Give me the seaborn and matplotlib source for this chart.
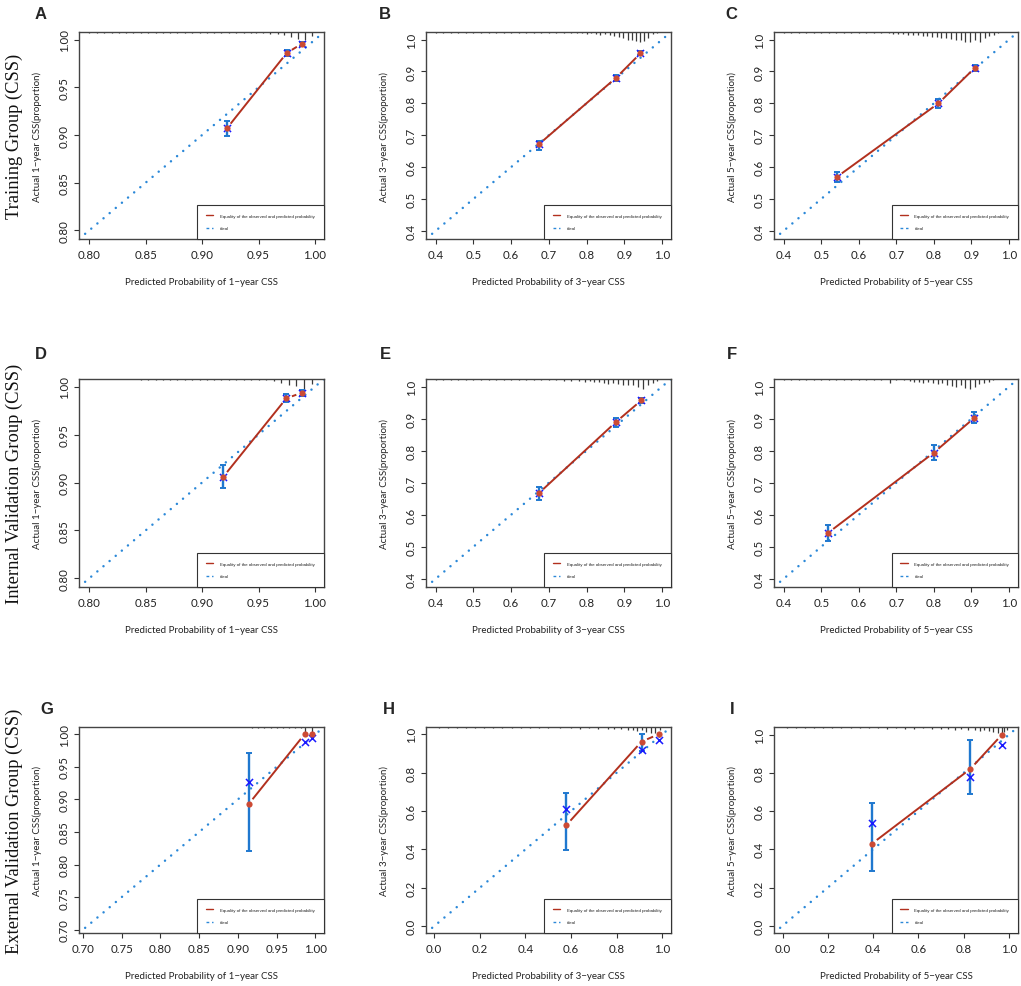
import numpy as np
import matplotlib
matplotlib.use('Agg')
import matplotlib.pyplot as plt
import seaborn as sns
from matplotlib.lines import Line2D

# calibration points: predicted, observed (KM), bias-corrected, CI
pred_A = [0.922, 0.975, 0.9885]
obs_A = [0.907, 0.986, 0.9958]
bc_A = [0.907, 0.986, 0.9958]
lo_A = [0.899, 0.983, 0.993]
hi_A = [0.915, 0.989, 0.998]

pred_B = [0.673, 0.878, 0.943]
obs_B = [0.671, 0.880, 0.957]
bc_B = [0.671, 0.880, 0.957]
lo_B = [0.655, 0.871, 0.951]
hi_B = [0.683, 0.889, 0.963]

pred_C = [0.5416, 0.812, 0.910]
obs_C = [0.569, 0.800, 0.9125]
bc_C = [0.569, 0.800, 0.9125]
lo_C = [0.553, 0.785, 0.902]
hi_C = [0.584, 0.8135, 0.921]

pred_D = [0.9188, 0.9746, 0.9885]
obs_D = [0.906, 0.9878, 0.9937]
bc_D = [0.906, 0.9878, 0.9937]
lo_D = [0.894, 0.9837, 0.9906]
hi_D = [0.918, 0.992, 0.9965]

pred_E = [0.673, 0.878, 0.945]
obs_E = [0.6667, 0.8896, 0.957]
bc_E = [0.6667, 0.8896, 0.957]
lo_E = [0.645, 0.875, 0.949]
hi_E = [0.686, 0.903, 0.966]

pred_F = [0.519, 0.800, 0.908]
obs_F = [0.544, 0.794, 0.903]
bc_F = [0.544, 0.794, 0.903]
lo_F = [0.517, 0.772, 0.8875]
hi_F = [0.569, 0.817, 0.921]

pred_G = [0.914, 0.986, 0.996]
obs_G = [0.893, 1.0, 1.0]
bc_G = [0.9264, 0.9875, 0.9948]
lo_G = [0.8206, np.nan, np.nan]
hi_G = [0.971, np.nan, np.nan]

pred_H = [0.580, 0.909, 0.984]
obs_H = [0.527, 0.962, 1.0]
bc_H = [0.610, 0.920, 0.972]
lo_H = [0.398, 0.913, np.nan]
hi_H = [0.692, 1.0, np.nan]

pred_I = [0.395, 0.830, 0.969]
obs_I = [0.4296, 0.821, 1.0]
bc_I = [0.537, 0.779, 0.946]
lo_I = [0.285, 0.690, np.nan]
hi_I = [0.643, 0.970, np.nan]

# risk distribution ticks along the top (position, relative length)
rug_x_A = [0.800, 0.807, 0.813, 0.820, 0.826, 0.833, 0.839, 0.846, 0.852, 0.859, 0.865, 0.872,
           0.878, 0.885, 0.891, 0.898, 0.904, 0.911, 0.917, 0.924, 0.930, 0.937, 0.943,
           0.948, 0.954, 0.960, 0.967, 0.973, 0.979, 0.985, 0.991, 0.997]
rug_h_A = [1] * 23 + [1, 1.5, 2, 2, 3, 5, 7, 8, 4]

rug_x_B = [0.40, 0.42, 0.44, 0.46, 0.48, 0.50, 0.52, 0.54, 0.56, 0.58, 0.60, 0.62, 0.64, 0.66,
           0.68, 0.70, 0.72, 0.74, 0.76, 0.7735, 0.787, 0.800, 0.812, 0.824, 0.835, 0.849, 0.862,
           0.873, 0.886, 0.897, 0.909, 0.920, 0.931, 0.942, 0.952, 0.964, 0.975, 0.986]
rug_h_B = [1] * 19 + [1, 1, 2, 1.5, 2, 3, 2, 3, 4, 5, 6, 8, 8, 9, 10, 9, 6, 2, 1]

rug_x_C = [0.40, 0.42, 0.44, 0.46, 0.48, 0.50, 0.52, 0.54, 0.56, 0.58, 0.60, 0.62, 0.64, 0.66,
           0.68, 0.692, 0.705, 0.718, 0.731, 0.745, 0.757, 0.770, 0.782, 0.795, 0.808, 0.820,
           0.833, 0.845, 0.858, 0.871, 0.884, 0.896, 0.909, 0.922, 0.935, 0.947, 0.960, 0.972]
rug_h_C = [1] * 15 + [2, 2, 2, 3, 3, 3, 4, 4, 5, 5, 6, 6, 7, 8, 8, 10, 10, 8, 10, 6, 4, 3, 1]

rug_x_D = [0.846, 0.852, 0.859, 0.865, 0.872, 0.878, 0.885, 0.891, 0.898, 0.904, 0.911, 0.917,
           0.924, 0.930, 0.937, 0.943, 0.950, 0.957, 0.964, 0.970, 0.977, 0.983, 0.990, 0.997]
rug_h_D = [1] * 17 + [1, 2, 4, 6, 7, 10, 5]

rug_x_E = [0.40, 0.42, 0.44, 0.46, 0.48, 0.50, 0.52, 0.54, 0.56, 0.58, 0.60, 0.62, 0.64, 0.66,
           0.68, 0.70, 0.72, 0.74, 0.76, 0.78, 0.796, 0.809, 0.820, 0.833, 0.845, 0.858, 0.871,
           0.884, 0.897, 0.910, 0.924, 0.937, 0.950, 0.964, 0.977, 0.988]
rug_h_E = [1] * 14 + [1.5, 1.5, 1.5, 2, 2, 2] + [3, 2, 3, 3, 4, 5, 4, 5, 6, 6, 6, 8, 10, 6, 4, 2]

rug_x_F = [0.40, 0.42, 0.44, 0.46, 0.48, 0.50, 0.52, 0.54, 0.56, 0.58, 0.60, 0.62, 0.64, 0.66,
           0.683, 0.700, 0.720, 0.735, 0.748, 0.760, 0.772, 0.784, 0.797, 0.810, 0.822, 0.835,
           0.847, 0.860, 0.872, 0.884, 0.897, 0.909, 0.921, 0.934, 0.946, 0.958]
rug_h_F = [1] * 14 + [4, 1.5, 1.5, 2, 3, 3, 4, 3, 4, 5, 4, 6, 7, 8, 6, 9, 10, 8, 5, 4, 3, 1]

rug_x_G = [0.918, 0.926, 0.934, 0.942, 0.950, 0.958, 0.966, 0.974, 0.981, 0.987, 0.995]
rug_h_G = [1, 1, 1, 1, 1, 1, 1, 1, 1.5, 6, 5]

rug_x_H = [0.02, 0.06, 0.10, 0.14, 0.18, 0.22, 0.26, 0.30, 0.34, 0.38, 0.42, 0.46, 0.50,
           0.55, 0.60, 0.64, 0.68, 0.72, 0.76, 0.79, 0.82, 0.85, 0.87, 0.89, 0.91, 0.93, 0.95,
           0.97, 0.99]
rug_h_H = [1] * 13 + [1.5, 1.5, 2, 1.5, 2, 2, 2.5, 2, 3, 3, 4, 3, 5, 6, 6, 3]

rug_x_I = [0.02, 0.06, 0.10, 0.14, 0.18, 0.22, 0.26, 0.30, 0.34, 0.38, 0.42, 0.46, 0.50, 0.54,
           0.58, 0.62, 0.66, 0.70, 0.73, 0.76, 0.79, 0.82, 0.85, 0.87, 0.89, 0.91, 0.93, 0.95,
           0.97, 0.98, 0.99]
rug_h_I = [1] * 8 + [1.5, 1.5, 1.5, 2, 1.5, 2, 2, 1.5, 2, 2, 2.5, 3, 2.5, 3, 3.5, 4, 3, 4, 5,
                     6, 6, 5, 3]

ticks_1yr = [0.80, 0.85, 0.90, 0.95, 1.00]
ticks_3_5yr = [0.4, 0.5, 0.6, 0.7, 0.8, 0.9, 1.0]
ticks_ext_1yr = [0.70, 0.75, 0.80, 0.85, 0.90, 0.95, 1.00]
ticks_ext = [0.0, 0.2, 0.4, 0.6, 0.8, 1.0]

years = ['1', '3', '5']
row_labels = ['Training Group (CSS)', 'Internal Validation Group (CSS)', 'External Validation Group (CSS)']
letters = ['A', 'B', 'C', 'D', 'E', 'F', 'G', 'H', 'I']

panels = [
    (pred_A, obs_A, bc_A, lo_A, hi_A, rug_x_A, rug_h_A, ticks_1yr, '%.2f', (0.791, 1.008)),
    (pred_B, obs_B, bc_B, lo_B, hi_B, rug_x_B, rug_h_B, ticks_3_5yr, '%.1f', (0.374, 1.024)),
    (pred_C, obs_C, bc_C, lo_C, hi_C, rug_x_C, rug_h_C, ticks_3_5yr, '%.1f', (0.374, 1.024)),
    (pred_D, obs_D, bc_D, lo_D, hi_D, rug_x_D, rug_h_D, ticks_1yr, '%.2f', (0.791, 1.008)),
    (pred_E, obs_E, bc_E, lo_E, hi_E, rug_x_E, rug_h_E, ticks_3_5yr, '%.1f', (0.374, 1.024)),
    (pred_F, obs_F, bc_F, lo_F, hi_F, rug_x_F, rug_h_F, ticks_3_5yr, '%.1f', (0.374, 1.024)),
    (pred_G, obs_G, bc_G, lo_G, hi_G, rug_x_G, rug_h_G, ticks_ext_1yr, '%.2f', (0.695, 1.011)),
    (pred_H, obs_H, bc_H, lo_H, hi_H, rug_x_H, rug_h_H, ticks_ext, '%.1f', (-0.035, 1.038)),
    (pred_I, obs_I, bc_I, lo_I, hi_I, rug_x_I, rug_h_I, ticks_ext, '%.1f', (-0.038, 1.040)),
]

RED_LINE = '#b2301e'
RED_PT = '#cc4a34'
BLUE_ERR = '#1f78cf'
BLUE_IDEAL = '#2b88d8'
BLUE_X = '#1a1aff'

sns.set_style('white')
plt.rcParams['font.family'] = ['Lato', 'DejaVu Sans']

W, H = 1021, 987
fig = plt.figure(figsize=(W / 100, H / 100), dpi=100)

col_left = [79, 426, 774]
col_w = [245, 245, 244]
row_top = [33, 380, 728]
row_h = [207, 208, 206]
letter_pos = [(35, 7), (379, 7), (725, 7), (35, 347), (380, 347), (727, 347),
              (40, 702), (383, 702), (730, 702)]


def gapped_line(ax, x, y, gap):
    # R type="b": segments stop short of the points
    tr = ax.transData
    pts = tr.transform(np.column_stack([x, y]))
    for p0, p1 in zip(pts[:-1], pts[1:]):
        d = p1 - p0
        L = np.hypot(d[0], d[1])
        if L <= 2 * gap + 1:
            continue
        u = d / L
        seg = tr.inverted().transform(np.array([p0 + u * gap, p1 - u * gap]))
        ax.plot(seg[:, 0], seg[:, 1], color=RED_LINE, lw=1.4, solid_capstyle='butt')


for k, (pred, obs, bc, lo, hi, rx, rh, ticks, fmt, lim) in enumerate(panels):
    r, c = divmod(k, 3)
    ax = fig.add_axes([col_left[c] / W, 1 - (row_top[r] + row_h[r]) / H, col_w[c] / W, row_h[r] / H])
    ax.set_xlim(lim)
    ax.set_ylim(lim)

    # ideal diagonal, dotted
    ax.axline((0, 0), (1, 1), color=BLUE_IDEAL, lw=1.8, linestyle=(0, (0.01, 3.2)),
              dash_capstyle='round', zorder=1)

    # rug of predicted risk at the top
    for xv, hv in zip(rx, rh):
        ax.plot([xv, xv], [1, 1 - hv * 0.0048], transform=ax.get_xaxis_transform(),
                color='#3a3a3a', lw=0.9, solid_capstyle='butt', clip_on=False, zorder=2)

    # error bars
    ax.errorbar(pred, obs, yerr=[np.array(obs) - np.array(lo), np.array(hi) - np.array(obs)],
                fmt='none', ecolor=BLUE_ERR, elinewidth=1.7, capsize=2.3, capthick=1.4, zorder=3)

    gapped_line(ax, pred, obs, 6)
    sns.scatterplot(x=pred, y=bc, ax=ax, color=BLUE_X, s=26, marker='x', linewidth=1.1, zorder=4)
    sns.scatterplot(x=pred, y=obs, ax=ax, color=RED_PT, s=20, marker='o', linewidth=0, zorder=5)

    ax.set_xticks(ticks)
    ax.set_yticks(ticks)
    ax.set_xticklabels([fmt % t for t in ticks])
    ax.set_yticklabels([fmt % t for t in ticks], rotation=90, va='center')
    ax.tick_params(axis='both', direction='out', length=3.5, width=0.8, color='#333333',
                   labelsize=8.3, labelcolor='#222222', left=True, bottom=True)
    ax.tick_params(axis='x', pad=4)
    ax.tick_params(axis='y', pad=3)
    for s in ax.spines.values():
        s.set_color('#444444')
        s.set_linewidth(1.0)

    yr = years[c]
    ax.set_xlabel('Predicted Probability of %s\u2212year CSS' % yr, fontsize=7, color='#222222')
    ax.set_ylabel('Actual %s\u2212year CSS(proportion)' % yr, fontsize=7, color='#222222')
    ax.xaxis.set_label_coords(0.5, -38 / row_h[r])
    ax.yaxis.set_label_coords(-37 / col_w[c], 0.5)

    handles = [Line2D([], [], color=RED_LINE, lw=1.0),
               Line2D([], [], color=BLUE_IDEAL, lw=1.0, linestyle=(0, (2, 2)))]
    leg = ax.legend(handles, ['Equality of the observed and predicted probability', 'ideal'],
                    loc='lower left', bbox_to_anchor=(0.482, 0, 0.518, 0.184), mode='expand',
                    borderaxespad=0, fancybox=False, edgecolor='#333333', framealpha=1,
                    prop={'family': 'Liberation Sans', 'size': 3.2}, handlelength=1.6,
                    handletextpad=1.5, borderpad=2.0, labelspacing=1.9)
    leg.get_frame().set_linewidth(0.8)

    lx, ly = letter_pos[k]
    fig.text(lx / W, 1 - ly / H, letters[k], fontsize=12, fontweight='bold',
             family='Liberation Sans', ha='left', va='top')

for r in range(3):
    yc = 1 - (row_top[r] + row_h[r] / 2) / H
    fig.text(14 / W, yc, row_labels[r], rotation=90, ha='center', va='center',
             fontsize=13.3, family='Liberation Serif', color='#111111')

fig.savefig('out.png', dpi=100)
